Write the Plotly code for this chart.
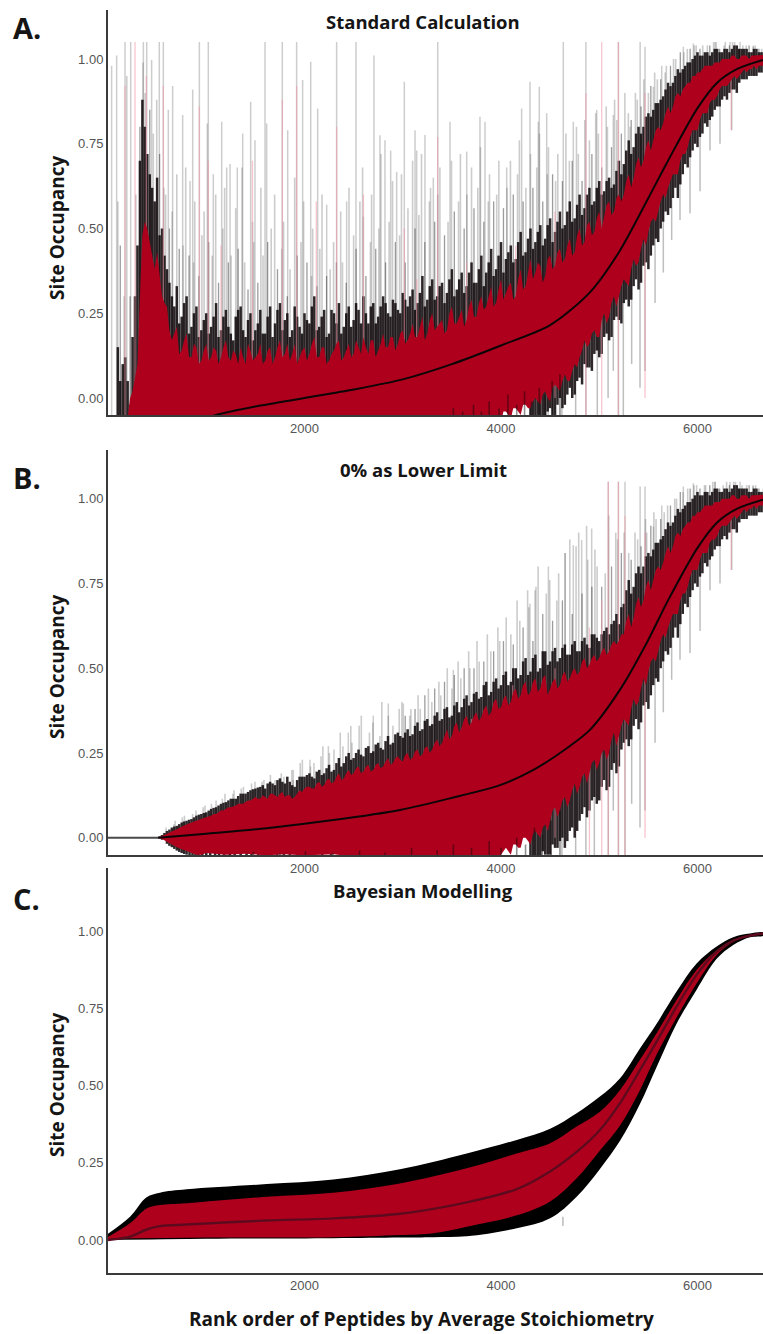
import numpy as np
import plotly.graph_objects as go

W, H = 763, 1334
RED = "#ae001c"
DARK = "rgba(10,4,6,0.86)"
AXIS = "#3a3a3a"
TICK = "#555555"
FONT = "Open Sans"

# ---------- shared rank grids ----------
grid = list(range(100, 6750, 50))
grid2 = list(range(125, 6700, 50))
mid_grid = list(range(125, 6700, 100))
gray_shift = [0, 14, -9, 21, -17, 6, -22, 11, -4, 18, -13, 3]

# ---------- Panel A : standard calculation ----------
A_mean_ranks = [1000, 1100, 1500, 2000, 2500, 3000, 3500, 4000, 4500, 4900, 5200, 5500, 5700, 6000, 6200, 6400, 6667]
A_mean = [-0.06, -0.05, -0.025, 0.0, 0.025, 0.055, 0.10, 0.155, 0.215, 0.31, 0.43, 0.59, 0.70, 0.855, 0.93, 0.97, 0.997]

A_red_top = [-.06,-.06,-.06,.02,.10,.48,.50,.42,.43,.30,
 .27,.17,.21,.14,.19,.12,.15,.11,.16,.12,
 .14,.12,.17,.11,.13,.15,.10,.14,.12,.16,
 .11,.15,.12,.17,.13,.11,.16,.12,.15,.13,
 .18,.12,.15,.11,.14,.17,.12,.16,.13,.15,
 .18,.13,.17,.14,.19,.15,.18,.16,.20,.17,
 .22,.18,.24,.19,.25,.21,.23,.20,.27,.22,
 .26,.23,.29,.24,.30,.27,.33,.28,.35,.31,
 .34,.30,.38,.33,.41,.37,.39,.36,.42,.39,
 .44,.41,.47,.43,.50,.46,.52,.49,.55,.54,
 .58,.55,.60,.60,.66,.65,.71,.70,.76,.76,
 .80,.81,.86,.86,.90,.91,.93,.95,.96,.97,
 .98,.98,.99,1.0,1.0,1.01,1.0,1.01,1.01,1.01,1.01,1.012,1.012]
A_red_top2 = [-.06,-.06,.0,.06,.30,.52,.46,.38,.36,.28,
 .20,.19,.13,.17,.12,.16,.10,.14,.11,.15,
 .10,.15,.12,.14,.10,.12,.16,.11,.13,.10,
 .14,.10,.15,.12,.16,.13,.10,.14,.11,.16,
 .12,.15,.10,.13,.16,.11,.14,.12,.17,.13,
 .15,.17,.12,.16,.15,.18,.14,.19,.16,.19,
 .18,.21,.17,.23,.20,.22,.19,.25,.22,.24,
 .21,.27,.24,.28,.26,.30,.27,.32,.29,.33,
 .29,.35,.32,.37,.35,.40,.34,.41,.38,.43,
 .40,.45,.42,.48,.45,.51,.48,.53,.50,.57,
 .54,.59,.58,.64,.62,.69,.68,.74,.73,.79,
 .79,.84,.84,.89,.89,.92,.93,.95,.96,.98,
 .98,.99,.99,1.0,1.0,1.01,1.0,1.01,1.0,1.01,1.01,1.012]
A_black_top = [.15,.10,.05,.18,.45,.88,.72,.62,.65,.50,
 .38,.30,.33,.24,.30,.21,.27,.20,.25,.21,
 .28,.20,.26,.19,.24,.27,.18,.25,.20,.26,
 .19,.27,.22,.28,.23,.18,.27,.21,.25,.22,
 .30,.21,.26,.19,.25,.28,.21,.27,.23,.26,
 .30,.22,.28,.24,.30,.25,.29,.26,.31,.27,
 .32,.28,.36,.29,.35,.30,.34,.31,.38,.32,
 .37,.33,.40,.34,.42,.37,.44,.38,.46,.41,
 .45,.41,.49,.43,.50,.46,.51,.47,.53,.49,
 .55,.51,.58,.53,.60,.56,.62,.58,.64,.61,
 .65,.63,.70,.69,.76,.74,.80,.80,.84,.85,
 .87,.89,.93,.93,.97,.97,.99,1.0,1.02,1.01,
 1.02,1.02,1.03,1.02,1.03,1.03,1.04,1.03,1.03,1.02,1.03,1.02,1.02]
A_black_top2 = [.05,.12,-.02,.30,.70,.80,.66,.58,.48,.42,
 .34,.27,.22,.28,.19,.25,.18,.23,.19,.24,
 .18,.24,.21,.17,.26,.20,.23,.17,.22,.19,
 .24,.18,.26,.20,.25,.20,.24,.19,.23,.27,
 .20,.24,.18,.26,.22,.19,.25,.21,.28,.22,
 .25,.27,.22,.27,.28,.24,.28,.25,.29,.30,
 .26,.31,.27,.33,.29,.33,.28,.35,.30,.35,
 .31,.37,.34,.38,.33,.40,.36,.42,.37,.43,
 .40,.46,.42,.47,.44,.49,.45,.51,.46,.52,
 .50,.55,.52,.57,.54,.60,.57,.62,.60,.64,
 .62,.67,.66,.73,.72,.78,.78,.83,.83,.87,
 .88,.91,.92,.95,.96,.98,.99,1.01,1.01,1.02,
 1.01,1.03,1.02,1.03,1.02,1.04,1.03,1.03,1.02,1.03,1.02,1.02]
A_gray_top = [.58,.30,.95,.30,.60,.99,.90,.78,.88,.62,
 .60,.55,.66,.45,.68,.40,.58,.48,.55,.42,
 .60,.50,.62,.42,.56,.68,.40,.52,.46,.62,
 .42,.50,.60,.44,.52,.38,.65,.46,.58,.36,
 .50,.44,.60,.38,.46,.55,.40,.62,.48,.58,
 .68,.46,.60,.50,.72,.52,.64,.48,.66,.56,
 .70,.54,.72,.58,.62,.60,.68,.52,.70,.58,
 .72,.60,.68,.62,.74,.58,.66,.60,.70,.62,
 .70,.66,.76,.62,.72,.68,.78,.66,.74,.64,
 .72,.78,.70,.80,.72,.82,.76,.84,.78,.86,
 .80,.88,.82,.90,.84,.90,.88,.94,.90,.96,
 .94,.96,.98,1.0,1.0,1.02,1.03,1.04,1.04,1.04,
 1.04,1.05,1.05,1.04,1.05,1.05,1.05,1.04,1.04,1.04,1.04,1.03,1.03]
A_mid_top = [.45,.30,.80,.85,.72,.50,.44,.42,.36,.46,.34,.40,.44,.32,.34,.46,.38,.30,.42,.40,
 .33,.36,.40,.34,.44,.36,.44,.40,.46,.40,.50,.46,.52,.48,.55,.50,.56,.52,.58,.56,
 .60,.58,.62,.58,.66,.64,.70,.64,.72,.68,.74,.78,.82,.86,.92,.94,.98,1.02,1.03,1.03,
 1.04,1.03,1.04,1.03,1.04,1.03]

A_low_ranks = [100] + list(range(3300, 6750, 50))
A_red_low = [-.07, -.07,-.07,-.07,-.07,-.07,-.07,-.07,-.07,-.07,-.07,
 -.07,-.06,-.07,-.05,-.07,-.04,-.06,-.03,-.05,-.02,
 -.03,.0,-.02,.02,-.01,.04,.02,.07,.05,.10,
 .12,.17,.16,.20,.18,.25,.24,.30,.30,.35,
 .33,.41,.40,.47,.49,.53,.55,.60,.62,.66,
 .66,.72,.74,.79,.79,.84,.84,.88,.89,.92,
 .92,.94,.94,.96,.96,.97,.97,.98,.98]
A_low_ranks2 = list(range(3325, 6700, 50))
A_red_low2 = [-.07,-.07,-.07,-.07,-.07,-.07,-.07,-.07,-.07,-.07,
 -.06,-.07,-.05,-.06,-.04,-.05,-.03,-.04,-.02,-.03,
 -.01,-.01,.01,.0,.03,.03,.05,.05,.08,.09,
 .14,.15,.19,.18,.23,.22,.28,.27,.33,.34,
 .38,.39,.44,.45,.52,.52,.58,.59,.64,.66,
 .70,.72,.77,.79,.82,.84,.87,.88,.91,.92,
 .93,.95,.95,.97,.97,.98,.98,.98]
A_black_low_ranks = list(range(4300, 6750, 50))
A_black_low = [-.08,-.07,-.06,-.07,-.03,-.05,.0,-.02,.03,.01,
 .06,.10,.09,.13,.12,.18,.17,.23,.23,.28,
 .27,.33,.32,.39,.38,.45,.46,.52,.54,.59,
 .59,.66,.68,.73,.74,.78,.80,.83,.86,.88,
 .88,.91,.90,.94,.94,.95,.95,.96,.96]
A_black_low_ranks2 = list(range(4325, 6700, 50))
A_black_low2 = [-.07,-.05,-.06,-.04,-.05,-.02,-.03,.01,.0,.05,
 .04,.09,.08,.14,.13,.19,.18,.24,.22,.29,
 .29,.35,.34,.40,.42,.47,.50,.55,.56,.62,
 .63,.69,.71,.75,.77,.81,.82,.85,.86,.89,
 .90,.91,.93,.94,.95,.95,.96,.96]

# individually read long error bars: rank and upper limit
A_spike_ranks = [37, 88, 173, 231, 360, 394, 444, 522, 563, 614, 658, 760, 835, 862, 930, 1011, 1021, 1072, 1157, 1208, 1242,
 1316, 1371, 1452, 1496, 1598, 1615, 1774, 1829, 1920, 1981, 2063, 2134, 2226, 2327, 2429, 2524, 2599, 2707, 2768, 2819, 2877, 2938,
 3016, 3125, 3142, 3226, 3311, 3356, 3481, 3651, 3786, 3837, 4058, 4210, 4295, 4380, 4390, 4465, 4634, 4736, 4864, 4974,
 5143, 5195, 5313, 5416, 5466, 5551, 5636, 5856, 5958, 6179, 6331, 6433, 6568]
A_spike_tops = [.98, 1.01, 1.05, 1.05, 1.05, 1.05, .997, 1.05, 1.05, .85, .92, .835, .64, .91, 1.05, .81, 1.05, .66, .815, .68, .69,
 .68, .78, .874, .76, 1.05, .81, 1.05, .79, 1.05, .938, .992, .854, .57, 1.05, .58, 1.05, .535, 1.01, .775, .76, .73, .667,
 .933, .79, .73, .776, .65, 1.05, .815, .727, .83, .815, .68, .854, .933, .815, .918, .84, 1.05, .815, 1.05, .85,
 .835, 1.05, .80, 1.05, 1.036, .918, .98, 1.036, 1.046, 1.05, 1.05, 1.05, 1.036]

A_low_spike_ranks = [3480, 3700, 3900, 4100, 4300, 4480, 4620, 4760, 4864, 4980, 5090, 5143, 5195, 5245, 5330, 5415, 5466, 5568, 5652, 5737, 5822, 5924, 6026, 6127, 6229, 6348]
A_low_spike_bottoms = [-.06, -.06, -.06, -.06, -.06, -.06, -.06, -.06, -.06, -.06, .0, .08, -.06, -.06, .10, .03, .08, .28, .37, .466, .525, .545, .61, .73, .75, .79]

A_pink_ranks = [173, 275, 390, 563, 930, 1021, 1150, 1470, 1774, 1920, 2120, 2327, 2600, 3016, 3142, 3356, 3650, 4150, 4550, 4864, 5025, 5195, 5466, 6343]
A_pink_tops = [.92, 1.05, .95, .92, .86, .70, .45, .70, .88, .92, .58, .80, .60, .50, .35, .77, .40, .45, .55, .90, 1.05, 1.05, .90, 1.0]
A_pink_lows = [-.06, -.06, .0, .0, .0, .0, .0, .0, .0, .0, .0, .0, .0, .0, .0, .0, .0, .0, .0, -.06, -.06, -.06, .0, .79]

# short dark error bars seen over the red at the foot of panel A
A_inner_ranks = [3515, 3610, 3720, 3800, 3880, 3980, 4070, 4160, 4240, 4310, 4390, 4450, 4520, 4600]
A_inner_tops = [-.03, -.04, -.02, -.04, -.01, -.03, .01, -.02, .02, -.01, .03, .01, .05, .07]

# ---------- Panel B : 0% as lower limit (rank >= 5250 as panel A) ----------
B_head_ranks = list(range(500, 5250, 50))
B_head_ranks2 = list(range(525, 5250, 50))
B_mean_ranks = [510, 1000, 1615, 2293, 2972, 3481, 3990, 4330, 4670, 4905, 5210, 5480, 5700, 6000, 6200, 6400, 6667]
B_mean = [0.0, .012, .028, .052, .082, .116, .155, .20, .264, .318, .436, .573, .70, .855, .93, .97, .997]
B_red_top_head = [0,.004,.012,.02,.025,.033,.04,.045,.05,.055,
 .06,.065,.07,.08,.085,.09,.095,.10,.105,.11,
 .12,.115,.12,.13,.125,.13,.12,.125,.12,.14,
 .145,.15,.145,.165,.155,.175,.165,.19,.175,.20,
 .19,.21,.195,.215,.20,.22,.21,.235,.22,.24,
 .225,.25,.235,.26,.245,.27,.26,.29,.28,.32,
 .30,.34,.325,.36,.34,.37,.355,.39,.37,.41,
 .385,.42,.40,.44,.42,.46,.43,.47,.44,.48,
 .44,.47,.45,.49,.47,.50,.49,.53,.51,.54,
 .53,.56,.55,.58,.58]
B_red_top2_head = [.002,.008,.016,.022,.03,.036,.042,.048,.052,.058,
 .062,.07,.075,.08,.09,.092,.10,.10,.11,.115,
 .115,.125,.115,.13,.12,.135,.125,.115,.13,.135,
 .15,.145,.16,.15,.17,.16,.18,.17,.19,.185,
 .205,.19,.21,.195,.215,.205,.225,.215,.235,.23,
 .245,.23,.255,.24,.265,.25,.28,.27,.30,.29,
 .33,.31,.35,.33,.36,.345,.38,.36,.40,.38,
 .41,.39,.43,.41,.45,.42,.46,.43,.47,.42,
 .46,.44,.48,.46,.49,.48,.52,.50,.53,.52,
 .55,.54,.57,.57,.60]
B_black_top_head = [0,.008,.02,.03,.035,.045,.05,.055,.065,.07,
 .075,.085,.09,.10,.105,.115,.115,.13,.13,.14,
 .145,.15,.145,.165,.155,.175,.16,.165,.15,.18,
 .18,.19,.175,.20,.19,.215,.20,.235,.22,.25,
 .235,.26,.24,.27,.255,.28,.26,.30,.28,.31,
 .295,.32,.305,.34,.32,.35,.335,.37,.35,.385,
 .36,.40,.385,.42,.40,.43,.415,.46,.43,.47,
 .45,.49,.46,.50,.48,.53,.49,.54,.50,.55,
 .52,.56,.53,.57,.54,.58,.55,.59,.56,.60,
 .58,.61,.60,.64,.63]
B_black_top2_head = [.004,.014,.024,.033,.04,.048,.053,.06,.068,.073,
 .08,.088,.095,.103,.11,.115,.123,.13,.135,.143,
 .148,.155,.16,.16,.17,.165,.18,.155,.17,.18,
 .185,.18,.195,.185,.205,.195,.22,.21,.24,.23,
 .25,.245,.265,.25,.275,.265,.285,.275,.305,.30,
 .31,.30,.33,.315,.345,.33,.36,.345,.38,.355,
 .39,.37,.41,.39,.425,.41,.45,.42,.46,.44,
 .48,.45,.50,.47,.52,.48,.53,.49,.55,.51,
 .55,.52,.56,.54,.57,.55,.58,.57,.60,.59,
 .60,.62,.63,.66,.68]
B_gray_top_head = [0,.012,.03,.04,.05,.06,.065,.07,.08,.09,
 .095,.10,.11,.115,.13,.13,.14,.145,.15,.16,
 .165,.165,.17,.185,.17,.19,.18,.20,.17,.22,
 .23,.21,.22,.24,.27,.25,.26,.31,.27,.33,
 .28,.33,.36,.31,.34,.30,.40,.36,.33,.38,
 .40,.36,.38,.42,.38,.44,.40,.46,.42,.50,
 .44,.52,.47,.55,.50,.58,.52,.60,.55,.62,
 .58,.65,.60,.70,.64,.73,.68,.74,.80,.72,
 .76,.70,.78,.84,.88,.86,.90,.92,.82,.85,
 .80,.78,.95,.90,.88]
B_mid_ranks = list(range(3025, 5325, 100))
B_mid_top = [.36,.38,.42,.44,.46,.48,.50,.50,.52,.55,.58,.57,.62,.58,.66,.64,.70,.66,.72,.74,.74,.80,.84]
B_red_low_head_ranks = [500,550,600,650,700,750,800,850,900,950, 1000,1200,1400,1600,1800,2000,2300,2600,3300] + list(range(3500, 5250, 50))
B_red_low_head = [0,-.004,-.012,-.02,-.028,-.035,-.04,-.045,-.05,-.05, -.045,-.05,-.047,-.052,-.049,-.052,-.049,-.06,-.07,
 -.07,-.07,-.07,-.07,-.07,-.07,-.07,-.07,-.07,-.07,
 -.05,-.03,-.05,-.02,-.03,.0,-.02,.02,.0,.04,
 .05,.09,.08,.12,.11,.16,.15,.19,.19,.23,
 .22,.26,.25,.31,.30]
B_red_low2_ranks = list(range(3525, 5250, 50))
B_red_low2 = [-.07,-.07,-.07,-.07,-.07,-.07,-.07,-.07,-.07,-.07,
 -.04,-.04,-.02,-.03,.0,-.01,.01,.01,.03,.02,
 .08,.06,.11,.09,.14,.13,.18,.16,.22,.20,
 .25,.23,.29,.27,.33]
B_black_low_head_ranks = [520,550,600,625,650,675,700,725,750,775,800,830,860,890,920,960,1000,1040,1090,1130,1180,1240,1290,1350,1410,1460,1530,1600,1660,1720,1790,1850,1930,2010,2090,2180,2270,2380,2480,
 4300,4350,4400,4450,4500,4550,4600,4650,4700,4750,4800,4850,4900,4950,5000,5050,5100,5150,5200]
B_black_low_head = [-.002,-.006,-.018,-.024,-.028,-.033,-.038,-.042,-.045,-.048,-.05,-.06,-.06,-.06,-.06,-.06,-.06,-.06,-.06,-.06,-.06,-.06,-.06,-.06,-.06,-.06,-.06,-.06,-.06,-.06,-.06,-.06,-.06,-.06,-.06,-.06,-.06,-.06,-.06,
 -.07,-.06,-.07,-.05,-.05,-.03,-.01,-.03,.02,.0,
 .05,.09,.08,.12,.11,.17,.15,.22,.21]
B_black_low2_ranks = list(range(4325, 5250, 50))
B_black_low2 = [-.06,-.06,-.04,-.05,-.02,-.03,.0,-.01,.03,
 .02,.07,.06,.11,.10,.15,.14,.20,.19,.26]
B_spike_ranks = [1886, 2056, 2243, 2446, 2700, 2853, 3006, 3515, 4295, 4346, 4482, 4652, 4736, 4821, 4923, 5092, 5195, 5262, 5416, 5466, 5551, 5636, 5856, 5958, 6179, 6331, 6433, 6568]
B_spike_tops = [.20, .23, .27, .31, .36, .396, .396, .495, .69, .73, .80, .84, .863, .878, .912, 1.05, 1.05, 1.05, 1.036, 1.036, .918, .98, 1.036, 1.046, 1.05, 1.05, 1.05, 1.036]
B_pink_ranks = [3700, 4120, 4550, 4900, 5025, 5092, 5195, 5262, 5466, 6343]
B_pink_tops = [.35, .45, .50, .62, .70, 1.05, 1.05, .95, .90, 1.0]
B_pink_lows = [.0, .0, .0, -.06, -.06, -.06, -.06, -.06, .0, .79]
B_low_spike_ranks = [4480, 4620, 4760, 4864, 4950, 5092, 5143, 5195, 5262, 5330, 5415, 5466, 5568, 5652, 5737, 5822, 5924, 6026, 6127, 6229, 6348]
B_low_spike_bottoms = [-.06, -.06, -.06, -.06, -.06, -.06, .08, -.06, -.06, .10, .03, .08, .28, .37, .466, .525, .545, .61, .73, .75, .79]
B_inner_ranks = [1240, 1480, 1750, 2010, 2290, 2560, 2820, 3090, 3350, 3515, 3700, 3880, 4000, 4160, 4250, 4340, 4420, 4510, 4600]
B_inner_tops = [-.047, -.042, -.046, -.04, -.045, -.038, -.044, -.03, -.036, -.02, -.03, -.01, -.03, .0, -.02, .03, .01, .05, .08]

# ---------- Panel C : Bayesian modelling ----------
C_top_ranks = [0, 224, 393, 529, 800, 1615, 2293, 2972, 3651, 4160, 4500, 4770, 5007, 5210, 5414, 5584, 5787, 5991, 6195, 6364, 6534, 6667]
C_black_top = [.02, .075, .138, .153, .164, .181, .196, .229, .28, .324, .36, .41, .464, .523, .62, .70, .804, .895, .95, .98, .992, .995]
C_red_top = [.01, .054, .102, .113, .119, .14, .153, .183, .232, .28, .313, .367, .415, .485, .583, .669, .777, .874, .938, .971, .988, .992]
C_mean = [.0, .011, .034, .045, .05, .063, .07, .085, .122, .165, .222, .285, .356, .442, .55, .642, .755, .858, .933, .969, .985, .992]
C_low_ranks = [0, 1000, 2293, 2972, 3311, 3651, 4160, 4500, 4770, 5007, 5210, 5414, 5584, 5787, 5991, 6195, 6364, 6534, 6667]
C_red_low = [.004, .008, .009, .016, .022, .043, .08, .125, .20, .29, .37, .485, .60, .72, .83, .922, .965, .985, .99]
C_black_low = [.0, .004, .006, .008, .009, .012, .038, .07, .14, .23, .32, .44, .56, .70, .81, .91, .955, .98, .985]
C_spike_ranks = [4630]
C_spike_tops = [.075]
C_spike_lows = [.045]

X_TICKS = [2000, 4000, 6000]
Y_TICKS = [0, .25, .5, .75, 1.0]
TITLES = ["Standard Calculation", "0% as Lower Limit", "Bayesian Modelling"]
LETTERS = ["A.", "B.", "C."]
X_LABEL = "Rank order of Peptides by Average Stoichiometry"
Y_LABEL = "Site Occupancy"


def spikes(ranks, lows, highs):
    xs, ys = [], []
    for r, lo, hi in zip(ranks, lows, highs):
        xs += [r, r, None]
        ys += [lo, hi, None]
    return xs, ys


def add_spikes(fig, ranks, lows, highs, color, width, n):
    xs, ys = spikes(ranks, lows, highs)
    fig.add_trace(go.Scatter(x=xs, y=ys, mode="lines", line=dict(color=color, width=width),
                             hoverinfo="skip", showlegend=False, xaxis=f"x{n}", yaxis=f"y{n}"))


def add_band(fig, top_x, top_y, low_x, low_y, color, n, shape="linear"):
    fig.add_trace(go.Scatter(x=list(top_x) + list(low_x)[::-1], y=list(top_y) + list(low_y)[::-1],
                             mode="lines", fill="toself", fillcolor=color, line=dict(width=0, shape=shape),
                             hoverinfo="skip", showlegend=False, xaxis=f"x{n}", yaxis=f"y{n}"))


def add_line(fig, x, y, color, width, n):
    fig.add_trace(go.Scatter(x=x, y=y, mode="lines", line=dict(color=color, width=width, shape="spline", smoothing=0.8),
                             hoverinfo="skip", showlegend=False, xaxis=f"x{n}", yaxis=f"y{n}"))


def merged(r1, v1, r2, v2):
    pairs = sorted(zip(list(r1) + list(r2), list(v1) + list(v2)), key=lambda p: p[0])
    return [p[0] for p in pairs], [p[1] for p in pairs]


def m(r, xs, ys):
    return list(np.interp(r, xs, ys))


fig = go.Figure()

shifted = [r + gray_shift[i % len(gray_shift)] for i, r in enumerate(grid)]

# Panel A
add_spikes(fig, A_low_spike_ranks, A_low_spike_bottoms, m(A_low_spike_ranks, A_mean_ranks, A_mean), "rgba(40,40,40,0.30)", 1.5, 1)
add_spikes(fig, shifted, m(grid, A_mean_ranks, A_mean), A_gray_top, "rgba(40,40,40,0.24)", 1.6, 1)
add_spikes(fig, A_spike_ranks, m(A_spike_ranks, A_mean_ranks, A_mean), A_spike_tops, "rgba(60,60,60,0.26)", 1.5, 1)
add_spikes(fig, mid_grid, m(mid_grid, A_mean_ranks, A_mean), A_mid_top, "rgba(20,20,20,0.42)", 1.3, 1)
add_spikes(fig, grid, m(grid, A_mean_ranks, A_mean), A_black_top, DARK, 2.5, 1)
add_spikes(fig, grid2, m(grid2, A_mean_ranks, A_mean), A_black_top2, DARK, 2.5, 1)
add_spikes(fig, A_black_low_ranks, A_black_low, m(A_black_low_ranks, A_mean_ranks, A_mean), DARK, 2.5, 1)
add_spikes(fig, A_black_low_ranks2, A_black_low2, m(A_black_low_ranks2, A_mean_ranks, A_mean), DARK, 2.5, 1)
add_spikes(fig, A_pink_ranks, A_pink_lows, A_pink_tops, "rgba(240,150,165,0.55)", 1.3, 1)
tx, ty = merged(grid, A_red_top, grid2, A_red_top2)
lx, ly = merged(A_low_ranks, A_red_low, A_low_ranks2, A_red_low2)
add_band(fig, tx, ty, lx, ly, RED, 1)
add_spikes(fig, A_inner_ranks, [-.06] * len(A_inner_ranks), A_inner_tops, "rgba(14,6,8,0.45)", 1.6, 1)
add_line(fig, A_mean_ranks, A_mean, "#0c0406", 2, 1)

# Panel B
t = grid.index(5250)
t2 = grid2.index(5275)
B_ranks = B_head_ranks + grid[t:]
B_ranks2 = B_head_ranks2 + grid2[t2:]
B_red_top = B_red_top_head + A_red_top[t:]
B_red_top2 = B_red_top2_head + A_red_top2[t2:]
B_black_top = B_black_top_head + A_black_top[t:]
B_black_top2 = B_black_top2_head + A_black_top2[t2:]
B_gray_top = B_gray_top_head + A_gray_top[t:]
ti = A_low_ranks.index(5250)
ti2 = A_low_ranks2.index(5275)
tb = A_black_low_ranks.index(5250)
tb2 = A_black_low_ranks2.index(5275)
B_red_low_ranks = B_red_low_head_ranks + A_low_ranks[ti:]
B_red_low = B_red_low_head + A_red_low[ti:]
B_red_low_r2 = B_red_low2_ranks + A_low_ranks2[ti2:]
B_red_low_v2 = B_red_low2 + A_red_low2[ti2:]
B_black_low_ranks = B_black_low_head_ranks + A_black_low_ranks[tb:]
B_black_low = B_black_low_head + A_black_low[tb:]
B_black_low_r2 = B_black_low2_ranks + A_black_low_ranks2[tb2:]
B_black_low_v2 = B_black_low2 + A_black_low2[tb2:]
tm = mid_grid.index(5325)
B_mid_r = B_mid_ranks + mid_grid[tm:]
B_mid_t = B_mid_top + A_mid_top[tm:]
B_shift = [r + gray_shift[i % len(gray_shift)] for i, r in enumerate(B_ranks)]

add_spikes(fig, B_low_spike_ranks, B_low_spike_bottoms, m(B_low_spike_ranks, B_mean_ranks, B_mean), "rgba(40,40,40,0.30)", 1.5, 2)
add_spikes(fig, B_shift, m(B_ranks, B_mean_ranks, B_mean), B_gray_top, "rgba(40,40,40,0.24)", 1.6, 2)
add_spikes(fig, B_spike_ranks, m(B_spike_ranks, B_mean_ranks, B_mean), B_spike_tops, "rgba(60,60,60,0.26)", 1.5, 2)
add_spikes(fig, B_mid_r, m(B_mid_r, B_mean_ranks, B_mean), B_mid_t, "rgba(20,20,20,0.42)", 1.3, 2)
add_spikes(fig, B_ranks, m(B_ranks, B_mean_ranks, B_mean), B_black_top, DARK, 2.5, 2)
add_spikes(fig, B_ranks2, m(B_ranks2, B_mean_ranks, B_mean), B_black_top2, DARK, 2.5, 2)
add_spikes(fig, B_black_low_ranks, B_black_low, m(B_black_low_ranks, B_mean_ranks, B_mean), DARK, 2.5, 2)
add_spikes(fig, B_black_low_r2, B_black_low_v2, m(B_black_low_r2, B_mean_ranks, B_mean), DARK, 2.5, 2)
add_spikes(fig, B_pink_ranks, B_pink_lows, B_pink_tops, "rgba(240,150,165,0.55)", 1.3, 2)
tx, ty = merged(B_ranks, B_red_top, B_ranks2, B_red_top2)
lx, ly = merged(B_red_low_ranks, B_red_low, B_red_low_r2, B_red_low_v2)
add_band(fig, tx, ty, lx, ly, RED, 2)
add_spikes(fig, B_inner_ranks, [-.06] * len(B_inner_ranks), B_inner_tops, "rgba(14,6,8,0.45)", 1.6, 2)
add_line(fig, [0, 510], [0, 0], "#4a4a4a", 2, 2)
add_line(fig, B_mean_ranks, B_mean, "#0c0406", 2, 2)

# Panel C
add_spikes(fig, C_spike_ranks, C_spike_lows, C_spike_tops, "rgba(60,60,60,0.35)", 1.5, 3)
add_band(fig, C_top_ranks, C_black_top, C_low_ranks, C_black_low, "#000000", 3, shape="spline")
add_band(fig, C_top_ranks, C_red_top, C_low_ranks, C_red_low, RED, 3, shape="spline")
add_line(fig, C_top_ranks, C_mean, "#5e0a1e", 2.4, 3)

# layout: (top px, bottom px, zero px, px per unit)
panels = [(10, 415, 398, 339), (450, 855, 837.7, 339), (868, 1272.7, 1240, 309)]
layout = dict(width=W, height=H, margin=dict(l=0, r=0, t=0, b=0), paper_bgcolor="white",
              plot_bgcolor="white", showlegend=False)
for i, (top, bot, zero, unit) in enumerate(panels, start=1):
    sfx = "" if i == 1 else str(i)
    layout[f"xaxis{sfx}"] = dict(domain=[108 / W, 1], range=[0, (W - 108) / 0.09825], anchor=f"y{sfx}",
                                 tickvals=X_TICKS, ticktext=[str(v) for v in X_TICKS], ticks="", showgrid=False,
                                 zeroline=False, showline=True, linecolor=AXIS, linewidth=2,
                                 tickfont=dict(family="Liberation Sans", size=13, color=TICK))
    layout[f"yaxis{sfx}"] = dict(domain=[1 - bot / H, 1 - top / H], range=[(zero - bot) / unit, (zero - top) / unit],
                                 anchor=f"x{sfx}", tickvals=Y_TICKS, ticktext=[f"{v:.2f}" for v in Y_TICKS], ticks="",
                                 showgrid=False, zeroline=False, showline=True, linecolor=AXIS, linewidth=2,
                                 tickfont=dict(family="Liberation Sans", size=13, color=TICK))
fig.update_layout(**layout)


def note(text, px, py, size, angle=0, anchor="center"):
    fig.add_annotation(text=f"<b>{text}</b>", x=px / W, y=1 - py / H, xref="paper", yref="paper", xanchor=anchor,
                       yanchor="middle", showarrow=False, textangle=angle,
                       font=dict(family=FONT, size=size, color="#151515"))


for title, letter, ty_, ly_, yy in zip(TITLES, LETTERS, [21, 470, 891], [27, 477, 898], [228, 667, 1085]):
    note(title, 423, ty_, 18.5)
    note(letter, 11, ly_, 29, anchor="left")
    note(Y_LABEL, 57, yy, 19, angle=-90)
note(X_LABEL, 421, 1319, 19)

fig.write_html("out.html", config={"displayModeBar": False},
               post_script="document.body.style.margin='0';document.body.style.overflow='hidden';")
